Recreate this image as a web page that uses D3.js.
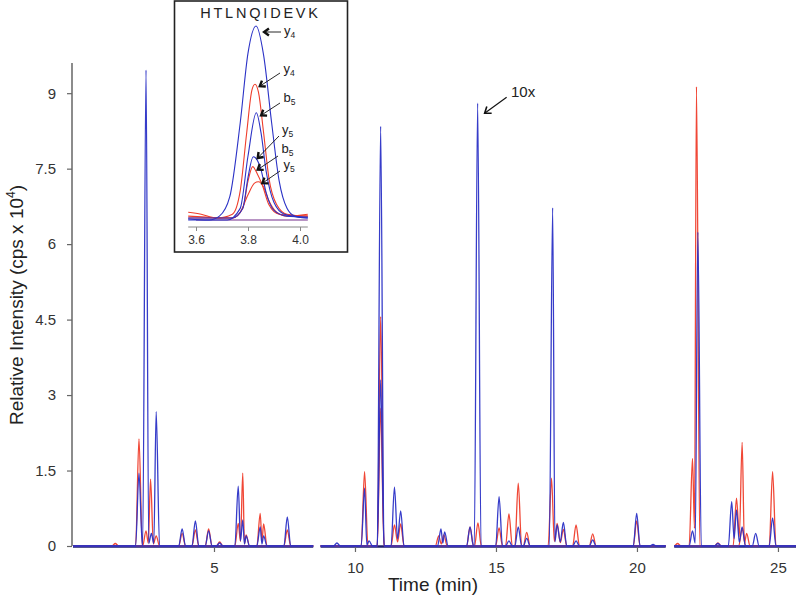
<!DOCTYPE html>
<html>
<head>
<meta charset="utf-8">
<script src="https://cdn.jsdelivr.net/npm/d3@7"></script>
<style>
  html, body { margin: 0; padding: 0; background: #fff; }
  svg { display: block; font-family: "Liberation Sans", Arial, Helvetica, sans-serif; }
</style>
</head>
<body>
<svg id="chart" width="796" height="600"></svg>
<script>
// ---------------- DATA ----------------
// Main chromatogram: peak apexes [time (min), intensity (cps x 10^4)]
const redPeaks = [
  [1.50,0.05],[2.34,2.13],[2.59,0.30],[2.75,1.33],[2.95,0.20],[3.87,0.25],[4.34,0.32],[4.81,0.34],
  [5.20,0.08],[5.86,0.45],[6.02,1.45],[6.14,0.22],[6.64,0.65],[6.76,0.44],[7.60,0.32],
  [10.34,1.48],[10.91,4.56],[11.40,0.42],[11.62,0.44],[12.97,0.20],[13.15,0.22],[14.08,0.38],
  [14.36,0.46],[15.11,0.36],[15.46,0.64],[15.79,1.25],[16.09,0.27],[16.97,1.35],[17.17,0.45],
  [17.39,0.33],[17.84,0.42],[18.43,0.24],[19.99,0.50],[21.44,0.05],[21.97,1.74],[22.11,9.13],
  [22.87,0.06],[23.53,0.95],[23.73,2.06],[23.89,0.25],[24.81,1.48]
];
const redPeaks2 = [[10.91,2.74],[23.73,0.35]];
const bluePeaks = [
  [2.34,1.45],[2.59,9.46],[2.78,0.25],[2.95,2.67],[3.87,0.34],[4.34,0.50],[4.81,0.30],[5.20,0.06],
  [5.86,1.19],[6.02,0.52],[6.14,0.20],[6.64,0.38],[6.76,0.20],[7.60,0.58],[9.36,0.06],
  [10.34,1.15],[10.50,0.10],[10.91,8.34],[11.40,1.17],[11.62,0.70],[13.05,0.34],[13.18,0.28],
  [14.08,0.38],[14.35,8.80],[15.11,0.98],[15.46,0.10],[15.79,0.38],[16.09,0.15],[17.01,6.72],
  [17.17,0.42],[17.39,0.47],[17.84,0.10],[18.43,0.12],[19.99,0.65],[20.57,0.03],[21.97,0.30],
  [22.16,6.24],[22.87,0.05],[23.36,0.88],[23.53,0.72],[23.73,0.38],[24.21,0.25],[24.81,0.56]
];
const bluePeaks2 = [[10.91,3.30]];
// Recorded time segments (trace is interrupted between them)
const traceSegments = [[0, 8.52], [8.78, 21.02], [21.32, 25.64]];
const xTicks = [5, 10, 15, 20, 25];
const yTicks = [0, 1.5, 3, 4.5, 6, 7.5, 9];
const xDomain = [0, 25.64];
const yDomain = [0, 9.6];

// Inset (HTLNQIDEVK, 3.6 - 4.0 min): [time, relative intensity]
const insetTitle = "HTLNQIDEVK";
const insetTicks = [3.6, 3.8, 4.0];
const insetDomain = [3.57, 4.03];
const insetBlueY4 = [[3.57,0.005],[3.65,0.0],[3.69,0.02],[3.73,0.12],[3.77,0.50],[3.80,0.86],[3.831,1.0],[3.86,0.85],[3.891,0.50],[3.92,0.20],[3.95,0.06],[3.98,0.02],[4.03,0.01]];
const insetRedY4  = [[3.57,0.04],[3.62,0.03],[3.68,0.01],[3.74,0.03],[3.77,0.15],[3.795,0.45],[3.815,0.67],[3.827,0.70],[3.84,0.66],[3.86,0.45],[3.88,0.22],[3.91,0.08],[3.95,0.03],[4.03,0.02]];
const insetBlueB5 = [[3.57,0.0],[3.72,0.0],[3.77,0.06],[3.80,0.33],[3.832,0.553],[3.85,0.45],[3.87,0.25],[3.90,0.09],[3.94,0.03],[4.03,0.01]];
const insetBlueY5 = [[3.57,0.01],[3.74,0.01],[3.78,0.06],[3.80,0.22],[3.82,0.326],[3.835,0.31],[3.85,0.26],[3.87,0.14],[3.90,0.05],[3.95,0.02],[4.03,0.015]];
const insetRedB5  = [[3.57,0.02],[3.74,0.01],[3.78,0.06],[3.80,0.20],[3.818,0.275],[3.835,0.24],[3.855,0.18],[3.88,0.08],[3.92,0.03],[4.03,0.02]];
const insetRedY5  = [[3.57,0.01],[3.74,0.01],[3.77,0.04],[3.80,0.13],[3.825,0.19],[3.84,0.197],[3.86,0.17],[3.88,0.10],[3.91,0.04],[3.95,0.02],[4.03,0.03]];
// Inset labels: ion name, subscript, arrow tip [time, value]
const insetLabels = [
  ["y","4",[3.835,1.0]],
  ["y","4",[3.83,0.70]],
  ["b","5",[3.835,0.55]],
  ["y","5",[3.822,0.33]],
  ["b","5",[3.822,0.27]],
  ["y","5",[3.84,0.2]]
];
const annotation10x = {text: "10x", tip: [14.35, 8.8]};

// ---------------- DRAWING ----------------
const RED = "#ef3d2b", BLUE = "#2b32c6";
const svg = d3.select("#chart");
const x = d3.scaleLinear().domain(xDomain).range([73, 796]);
const y = d3.scaleLinear().domain(yDomain).range([546, 63]);

function buildTrace(peaks, w) {
  const sorted = peaks.slice().sort((a,b)=>a[0]-b[0]);
  const pts = [];
  traceSegments.forEach(([a,b], si) => {
    const inSeg = sorted.filter(p => p[0] >= a && p[0] <= b);
    pts.push([a, 0]);
    inSeg.forEach((p, i) => {
      const prev = inSeg[i-1];
      if (!prev || p[0] - prev[0] >= 2*w) {
        pts.push([Math.max(p[0]-w, a+0.001), 0]);
      } else {
        pts.push([(p[0]+prev[0])/2, Math.min(p[1], prev[1]) * 0.2]);
      }
      pts.push([p[0], p[1]]);
      const next = inSeg[i+1];
      if (!next || next[0] - p[0] >= 2*w) pts.push([Math.min(p[0]+w, b-0.001), 0]);
    });
    pts.push([b, 0]);
    if (si < traceSegments.length - 1) pts.push(null);
  });
  return pts;
}

const line = d3.line()
  .defined(d => d !== null)
  .x(d => x(d[0])).y(d => y(d[1]))
  .curve(d3.curveMonotoneX);

// baseline (overlapping traces at zero)
const gBase = svg.append("g");
traceSegments.forEach(([a,b]) => {
  gBase.append("line").attr("x1", x(a)).attr("x2", x(b)).attr("y1", y(0)+0.5).attr("y2", y(0)+0.5)
    .attr("stroke", "#1d1d6e").attr("stroke-width", 2.6);
});

const W = 0.12;
[[redPeaks2, RED],[redPeaks, RED],[bluePeaks2, BLUE],[bluePeaks, BLUE]].forEach(([pk, col]) => {
  svg.append("path").attr("d", line(buildTrace(pk, W)))
    .attr("fill", "none").attr("stroke", col).attr("stroke-width", 1.3)
    .attr("stroke-linejoin", "round").attr("opacity", 0.95);
});

// y axis
const yAxis = d3.axisLeft(y).tickValues(yTicks).tickSize(5).tickPadding(11).tickFormat(d => d);
const gy = svg.append("g").attr("transform", "translate(72,0)").call(yAxis);
gy.select(".domain").attr("stroke", "#666").attr("stroke-width", 1.5).attr("d", `M0,${y(yDomain[1])}V${y(0)}`);
gy.selectAll(".tick line").attr("stroke", "#666").attr("stroke-width", 1.2);
gy.selectAll(".tick text").attr("font-size", 15).attr("fill", "#333")
  .attr("font-family", '"Liberation Sans", Arial, sans-serif');

// x axis (ticks only; baseline is the traces)
const xAxis = d3.axisBottom(x).tickValues(xTicks).tickSize(5).tickPadding(10).tickFormat(d => d);
const gx = svg.append("g").attr("transform", "translate(0,547)").call(xAxis);
gx.select(".domain").remove();
gx.selectAll(".tick line").attr("stroke", "#666").attr("stroke-width", 1.2);
gx.selectAll(".tick text").attr("font-size", 15).attr("fill", "#333")
  .attr("font-family", '"Liberation Sans", Arial, sans-serif');

// axis titles
svg.append("text").attr("x", 433).attr("y", 591).attr("text-anchor", "middle")
  .attr("font-size", 19).attr("fill", "#222").text("Time (min)");
const yl = svg.append("text").attr("transform", "translate(23,305) rotate(-90)")
  .attr("text-anchor", "middle").attr("font-size", 19).attr("fill", "#222");
yl.append("tspan").text("Relative Intensity (cps x 10");
yl.append("tspan").attr("font-size", 12).attr("dy", -8).text("4");
yl.append("tspan").attr("dy", 8).text(")");

// arrow helper
function arrow(g, x1, y1, x2, y2, head, sw, hw) {
  const ang = Math.atan2(y2 - y1, x2 - x1);
  g.append("line").attr("x1", x1).attr("y1", y1).attr("x2", x2).attr("y2", y2)
    .attr("stroke", "#111").attr("stroke-width", sw);
  const a1 = ang + Math.PI * 0.8, a2 = ang - Math.PI * 0.8;
  g.append("path")
    .attr("d", `M${x2 + head*Math.cos(a1)},${y2 + head*Math.sin(a1)}L${x2},${y2}L${x2 + head*Math.cos(a2)},${y2 + head*Math.sin(a2)}`)
    .attr("fill", "none").attr("stroke", "#111").attr("stroke-width", hw)
    .attr("stroke-linejoin", "miter");
}

// 10x annotation
const g10 = svg.append("g");
const tipX = x(annotation10x.tip[0]) + 7, tipY = y(annotation10x.tip[1]) + 10;
arrow(g10, tipX + 22, tipY - 16, tipX, tipY, 7, 1.2, 1.6);
g10.append("text").attr("x", 511).attr("y", 97).attr("font-size", 15).attr("fill", "#222")
  .text(annotation10x.text);

// ---------------- INSET ----------------
const gi = svg.append("g");
gi.append("rect").attr("x", 174.5).attr("y", 1).attr("width", 173).attr("height", 251)
  .attr("fill", "#fff").attr("stroke", "#222").attr("stroke-width", 1.6);
const ix = d3.scaleLinear().domain(insetDomain).range([188.2, 307.8]);
const iy = d3.scaleLinear().domain([0, 1]).range([220, 26]);
gi.append("text").attr("x", 260.5).attr("y", 17.5).attr("text-anchor", "middle")
  .attr("font-size", 14.5).attr("letter-spacing", 2.8).attr("fill", "#222").text(insetTitle);

const iline = d3.line().x(d => ix(d[0])).y(d => iy(d[1])).curve(d3.curveMonotoneX);
gi.append("line").attr("x1", ix(3.6)).attr("x2", ix(4.03)).attr("y1", iy(0)).attr("y2", iy(0))
  .attr("stroke", "#a070b0").attr("stroke-width", 1.4);
[[insetRedY4,RED],[insetRedB5,RED],[insetRedY5,RED],[insetBlueY4,BLUE],[insetBlueB5,BLUE],[insetBlueY5,BLUE]]
  .forEach(([d,c]) => gi.append("path").attr("d", iline(d)).attr("fill","none")
    .attr("stroke", c).attr("stroke-width", 1.1));

const iAxis = d3.axisBottom(ix).tickValues(insetTicks).tickSize(4).tickPadding(4).tickFormat(d3.format(".1f"));
const gia = gi.append("g").attr("transform", "translate(0,227)").call(iAxis);
gia.select(".domain").attr("stroke", "#888").attr("stroke-width", 1).attr("d", `M${ix(insetDomain[0])},0H${ix(insetDomain[1])}`);
gia.selectAll(".tick line").attr("stroke", "#888");
gia.selectAll(".tick text").attr("font-size", 12).attr("fill", "#333")
  .attr("font-family", '"Liberation Sans", Arial, sans-serif');

// inset label positions (text baseline) and arrow tails
const labelPos = [[284,35,282,32],[283.5,73,281,73],[283.5,102,281,103],[282,134,280,136],[281.5,153,279,156],[283.5,169,281,171]];
insetLabels.forEach(([t, sub, tip], i) => {
  const [lx, ly, ax, ay] = labelPos[i];
  const tx = ix(tip[0]) + 4, ty = iy(tip[1]) + 2;
  const txt = gi.append("text").attr("x", lx).attr("y", ly).attr("font-size", 13).attr("fill", "#222");
  txt.append("tspan").text(t);
  txt.append("tspan").attr("font-size", 8.5).attr("dy", 2.5).text(sub);
  arrow(gi, ax - 1, ay, i === 0 ? tx + 3 : tx, i === 0 ? ay : ty, 6, 0.9, 2.4);
});
</script>
</body>
</html>
